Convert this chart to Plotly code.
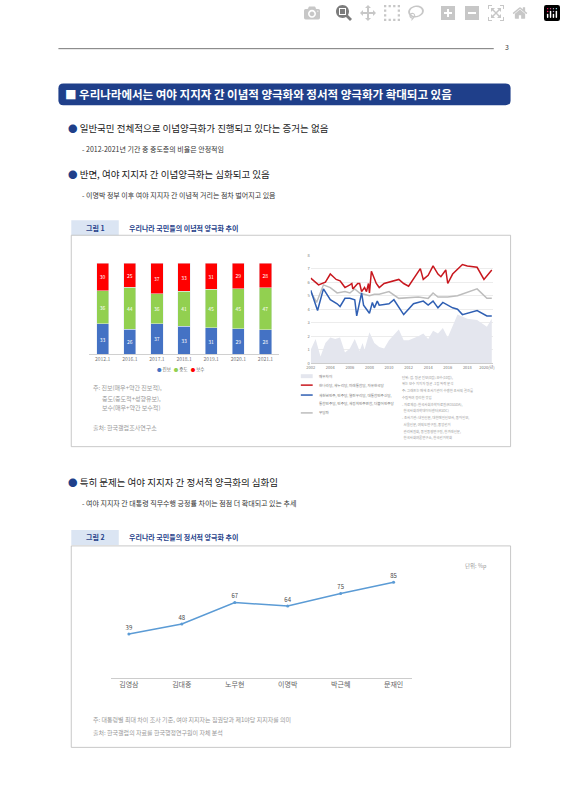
import plotly.graph_objects as go

W, H = 566, 800
FONT = "Noto Sans CJK KR"

# ---- data ----
bar_years = ["2012.1", "2016.1", "2017.1", "2018.1", "2019.1", "2020.1", "2021.1"]
progressive = [33, 26, 37, 33, 31, 29, 28]
moderate = [36, 44, 36, 41, 45, 45, 47]
conservative = [30, 25, 37, 33, 31, 29, 28]

red_x = [2002, 2002.5, 2002.8, 2003.5, 2004, 2004.6, 2005, 2005.2, 2005.5, 2006, 2006.2, 2006.3, 2006.8, 2007, 2007.2, 2007.5, 2007.7, 2007.9, 2008, 2008.2, 2008.7, 2009, 2009.5, 2011, 2011.5, 2012, 2013.2, 2013.5, 2014, 2014.5, 2015, 2015.3, 2015.8, 2016, 2016.5, 2017.5, 2018, 2019, 2019.7, 2020.5]
red_y = [6.3, 6.0, 5.8, 6.0, 6.6, 6.2, 6.1, 5.9, 5.6, 5.8, 5.9, 5.5, 5.9, 5.9, 5.3, 5.6, 5.3, 5.9, 5.2, 6.8, 5.9, 5.6, 5.9, 6.2, 5.9, 5.7, 7.0, 6.2, 6.5, 7.2, 6.6, 6.4, 6.9, 5.9, 6.6, 7.3, 7.2, 7.1, 6.2, 6.9]
blue_x = [2002, 2002.7, 2003.3, 2004, 2004.7, 2005, 2005.5, 2006, 2006.5, 2006.7, 2007.2, 2007.4, 2007.7, 2008, 2008.3, 2008.5, 2008.8, 2009, 2010, 2010.5, 2011.5, 2012.5, 2013.5, 2014, 2014.5, 2015, 2015.5, 2016, 2016.5, 2017, 2017.5, 2019, 2020, 2020.5]
blue_y = [5.4, 3.9, 5.5, 4.7, 4.4, 4.2, 4.8, 4.8, 4.7, 3.5, 5.2, 4.3, 4.0, 3.7, 4.5, 4.1, 4.6, 4.3, 4.4, 4.7, 3.6, 4.4, 4.6, 4.3, 4.6, 4.1, 4.5, 4.3, 4.1, 4.0, 3.6, 3.9, 3.5, 3.5]
gray_x = [2002, 2002.6, 2003.3, 2004, 2004.7, 2005.5, 2006, 2006.5, 2007, 2008, 2008.5, 2009, 2010, 2011, 2013, 2014, 2014.5, 2015, 2016, 2017, 2019, 2020, 2020.5]
gray_y = [5.3, 4.5, 5.8, 5.6, 5.2, 5.3, 5.2, 5.5, 5.2, 5.0, 5.1, 5.1, 5.3, 4.8, 4.9, 4.8, 5.2, 4.9, 4.9, 5.0, 5.5, 4.8, 4.8]
area_x = [2002, 2002.5, 2003, 2003.5, 2004, 2004.5, 2005, 2005.5, 2006, 2006.5, 2007, 2007.3, 2007.5, 2008, 2008.5, 2009, 2009.5, 2010, 2011, 2011.5, 2012, 2013, 2013.5, 2014, 2014.5, 2015, 2015.5, 2016, 2017, 2018, 2019, 2020, 2020.5]
area_y = [1.0, 1.8, 0.5, 1.5, 1.9, 1.8, 1.9, 0.8, 1.1, 1.8, 0.9, 1.5, 1.0, 2.3, 1.5, 1.2, 1.1, 1.7, 2.5, 1.7, 1.7, 2.0, 2.2, 1.8, 2.4, 2.2, 2.6, 1.9, 3.6, 3.3, 3.2, 2.7, 3.3]
line_xticks = [2002, 2004, 2006, 2008, 2010, 2012, 2014, 2016, 2018, 2020]
line_xticklabels = ["2002", "2004", "2006", "2008", "2010", "2012", "2014", "2016", "2018", "2020(년)"]

presidents = ["김영삼", "김대중", "노무현", "이명박", "박근혜", "문재인"]
gap = [39, 48, 67, 64, 75, 85]


def px(x):
    return x / W


def py(y):
    return 1 - y / H


fig = go.Figure()

for name, vals, col in [("진보", progressive, "#4472c4"), ("중도", moderate, "#92d050"), ("보수", conservative, "#ff0000")]:
    fig.add_trace(go.Bar(x=bar_years, y=vals, name=name, marker_color=col, text=vals,
                         textposition="inside", insidetextanchor="middle",
                         textfont=dict(size=5, color="white"), xaxis="x", yaxis="y", showlegend=False))

fig.add_trace(go.Scatter(x=area_x, y=area_y, fill="tozeroy", mode="none", fillcolor="#e4e6ee",
                         xaxis="x2", yaxis="y2", showlegend=False))
fig.add_trace(go.Scatter(x=gray_x, y=gray_y, mode="lines", line=dict(color="#bdbdbd", width=1.5),
                         xaxis="x2", yaxis="y2", showlegend=False))
fig.add_trace(go.Scatter(x=red_x, y=red_y, mode="lines", line=dict(color="#c8171e", width=1.5),
                         xaxis="x2", yaxis="y2", showlegend=False))
fig.add_trace(go.Scatter(x=blue_x, y=blue_y, mode="lines", line=dict(color="#2f5fb3", width=1.5),
                         xaxis="x2", yaxis="y2", showlegend=False))

fig.add_trace(go.Scatter(x=presidents, y=gap, mode="lines+markers+text", text=gap,
                         textposition="top center", textfont=dict(size=6, color="#444"),
                         line=dict(color="#5b9bd5", width=1.5), marker=dict(size=3, color="#5b9bd5"),
                         xaxis="x3", yaxis="y3", showlegend=False))

tick_small = dict(size=5, color="#777", family=FONT)

fig.update_layout(
    width=W, height=H, margin=dict(l=0, r=0, t=0, b=0),
    paper_bgcolor="white", plot_bgcolor="white",
    font=dict(family=FONT),
    barmode="stack", barnorm="percent", bargap=0.55,
    xaxis=dict(domain=[px(86), px(278)], anchor="y", tickfont=tick_small, showline=True,
               linecolor="#d0d0d0", ticks="", fixedrange=True),
    yaxis=dict(domain=[py(353), py(261)], range=[0, 100], visible=False),
    xaxis2=dict(domain=[px(310), px(494)], anchor="y2", range=[2002, 2020.6], tickvals=line_xticks,
                ticktext=line_xticklabels, tickfont=dict(size=4, color="#777"), showgrid=False,
                showline=True, linecolor="#ccc"),
    yaxis2=dict(domain=[py(362), py(253)], anchor="x2", range=[0, 8], dtick=1,
                tickfont=dict(size=4, color="#777"), gridcolor="#ececec", zeroline=False),
    xaxis3=dict(domain=[px(108), px(412)], anchor="y3", tickfont=dict(size=7, color="#666"),
                showline=True, linecolor="#ccc", showgrid=False),
    yaxis3=dict(domain=[py(679), py(560)], anchor="x3", range=[0, 105], visible=False),
)

shapes = []
ann = []


def text(x, y, s, size=9, color="#222", anchor="left", bold=False):
    if bold:
        s = "<b>" + s + "</b>"
    ann.append(dict(x=px(x), y=py(y), xref="paper", yref="paper", text=s, showarrow=False,
                    xanchor=anchor, yanchor="middle", font=dict(size=size, color=color, family=FONT)))


def rect(x0, y0, x1, y1, fill=None, line=None, lw=1):
    shapes.append(dict(type="rect", xref="paper", yref="paper", x0=px(x0), x1=px(x1),
                       y0=py(y1), y1=py(y0), fillcolor=fill or "rgba(0,0,0,0)",
                       line=dict(color=line or "rgba(0,0,0,0)", width=lw), layer="below"))


def hline(x0, x1, y, color, w=1):
    shapes.append(dict(type="line", xref="paper", yref="paper", x0=px(x0), x1=px(x1),
                       y0=py(y), y1=py(y), line=dict(color=color, width=w)))


hline(55, 495, 45, "#555", 0.8)
text(512, 43, "3", 7, "#444", "right")

shapes.append(dict(type="path", xref="paper", yref="paper",
                   path=f"M {px(60)},{py(80)} L {px(507)},{py(80)} Q {px(512)},{py(80)} {px(512)},{py(85)} "
                        f"L {px(512)},{py(97)} Q {px(512)},{py(102)} {px(507)},{py(102)} L {px(60)},{py(102)} "
                        f"Q {px(55)},{py(102)} {px(55)},{py(97)} L {px(55)},{py(85)} Q {px(55)},{py(80)} {px(60)},{py(80)} Z",
                   fillcolor="#1f3f8a", line=dict(width=0)))
text(60, 91, "■ 우리나라에서는 여야 지지자 간 이념적 양극화와 정서적 양극화가 확대되고 있음", 11.5, "white", bold=True)

text(63, 125, "<span style='color:#1f3f8a'>●</span> 일반국민 전체적으로 이념양극화가 진행되고 있다는 증거는 없음", 9.5)
text(77, 146, "- 2012-2021년 기간 중 중도층의 비율은 안정적임", 7, "#333")
text(63, 171, "<span style='color:#1f3f8a'>●</span> 반면, 여야 지지자 간 이념양극화는 심화되고 있음", 9.5)
text(77, 192, "- 이명박 정부 이후 여야 지지자 간 이념적 거리는 점차 벌어지고 있음", 7, "#333")

rect(68, 218, 116, 233, fill="#dbe5f3")
text(92, 225.5, "그림 1", 7, "#1f3f8a", "center", True)
text(124, 225.5, "우리나라 국민들의 이념적 양극화 추이", 7, "#1f3f8a", bold=True)
rect(68, 233, 512, 446, line="#bbbbbb", lw=0.8)

# bar legend
text(178, 368, "<span style='color:#4472c4'>●</span> 진보   <span style='color:#92d050'>●</span> 중도   "
     "<span style='color:#ff0000'>●</span> 보수", 4.5, "#666", "center")

text(88, 386, "주: 진보(매우+약간 진보적),", 6, "#999")
text(97, 397, "중도(중도적+성향유보),", 6, "#999")
text(97, 407, "보수(매우+약간 보수적)", 6, "#999")
text(88, 427, "출처: 한국갤럽조사연구소", 6, "#999")

rect(300, 373, 312, 377, fill="#e4e6ee")
text(316, 375, "매우차이", 3.6, "#777")
hline(300, 312, 384, "#c8171e", 1.5)
text(316, 384, "한나라당, 새누리당, 미래통합당, 자유한국당", 3.6, "#777")
hline(300, 312, 394, "#2f5fb3", 1.5)
text(316, 394, "새천년민주, 민주당, 열린우리당, 대통합민주신당,", 3.6, "#777")
text(316, 403, "통합민주당, 민주당, 새정치민주연합, 더불어민주당", 3.6, "#777")
hline(300, 312, 412, "#bdbdbd", 1.5)
text(316, 412, "무당파", 3.6, "#777")
notes = ["단위: 점. 평균 진보(0점)-보수(10점),", "위는 보수 지지자 평균 -1점 하락 분석",
         "주: 그래프는 매해 조사기관이 수행한 조사의 결과를", "수집하여 정리한 것임",
         "- 자료제공: 한국사회과학자료원(KOSSDA),", "  한국사회과학데이터센터(KSDC)",
         "- 조사기관: 내일신문, 대한매일신보사, 동아일보,", "  서울신문, 여의도연구원, 중앙선거",
         "  관리위원회, 동일동향연구원, 한겨레신문,", "  한국사회여론연구소, 한국선거학회"]
for i, s in enumerate(notes):
    text(400, 376 + i * 6.8, s, 3.4, "#999")

text(63, 482, "<span style='color:#1f3f8a'>●</span> 특히 문제는 여야 지지자 간 정서적 양극화의 심화임", 9.5)
text(77, 503, "- 여야 지지자 간 대통령 직무수행 긍정률 차이는 점점 더 확대되고 있는 추세", 7, "#333")

rect(68, 530, 116, 545, fill="#dbe5f3")
text(92, 537.5, "그림 2", 7, "#1f3f8a", "center", True)
text(124, 537.5, "우리나라 국민들의 정서적 양극화 추이", 7, "#1f3f8a", bold=True)
rect(68, 546, 512, 749, line="#bbbbbb", lw=0.8)
text(490, 566, "단위: %p", 5.5, "#999", "right")
text(88, 721, "주: 대통령별 최대 차이 조사 기준, 여야 지지자는 집권당과 제1야당 지지자를 의미", 6, "#999")
text(88, 734, "출처: 한국갤럽의 자료를 한국행정연구원이 자체 분석", 6, "#999")

fig.update_layout(shapes=shapes, annotations=ann)
fig.write_html("out.html", post_script="document.body.style.margin='0';document.body.style.overflow='hidden';")
